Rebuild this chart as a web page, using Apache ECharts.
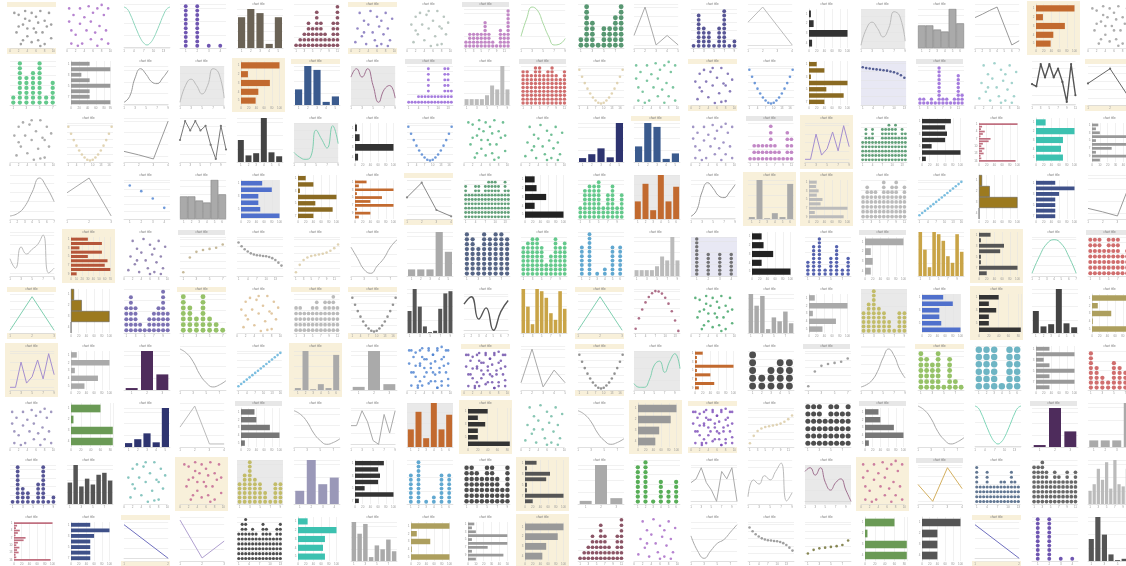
<!DOCTYPE html>
<html><head><meta charset="utf-8">
<script src="https://cdn.jsdelivr.net/npm/echarts@6/dist/echarts.min.js"></script>
<style>html,body{margin:0;padding:0;background:#fff;width:1126px;height:566px;overflow:hidden;position:relative}</style>
</head><body>
<script>
// ---------- scatter point sets (x,y in 0..10) ----------
const scatA = [[1,9],[1.5,4],[2,8.5],[2.5,1],[3,6],[3.5,9.5],[4,3],[4.5,7],[5,1.5],[5,9],[5.5,5],[6,8],[6.5,2],[6.5,6.5],[7,9.5],[7.5,4],[8,7],[8,1],[8.5,5.5],[9,9],[9.5,2.5],[9.5,6],[2,5.5],[3,2],[7,0.5],[4,5],[6,4],[3.5,7.5]];
const scatB = [[0.5,9],[0.5,6],[1,4],[1,1],[1.5,7.5],[2,3],[3,9],[3,5.5],[3.5,1],[4,7],[4.5,4],[5,9.5],[5.5,2],[5.5,6],[6,8],[6.5,3.5],[7,0.5],[7,9],[7.5,5],[8,2],[8.5,7.5],[9,4],[9.5,9],[9.5,1],[2.5,0.5],[8,9.8]];
const scatC = [[1,1.5],[1.5,5],[2,9],[2.5,3],[3,7],[3.5,1],[4,6],[4.5,9.5],[5,4],[5.5,2],[6,8],[6.5,5.5],[7,1],[7,7],[7.5,3.5],[8,9],[8.5,5],[9,2],[9.5,7.5],[3,4],[6,0.5],[8.5,0.5]];
const scatD = [[1,6],[1.5,1.5],[2,8],[2.5,3.5],[3,9],[3.5,6],[4,2],[4.5,8.5],[5,5],[5.5,0.5],[6,7],[6.5,3],[7,9.5],[7.5,5.5],[8,1],[8.5,8],[9,3.5],[9.5,6.5],[2,4.5],[5,9.5],[7,0.8],[8,5]];
const scatDense = scatA.concat(scatB);

// ---------- ordered dot curves ----------
const uShape = [9.5,7.6,5.9,4.4,3.1,2,1.2,0.6,0.4,0.6,1.2,2,3.1,4.4,5.9,7.6,9.5];
const archDots = [1,3.5,5.6,7.3,8.6,9.5,10,9.9,9.4,8.4,7,5.2,3,0.5];
const diagDots = [1,1.6,2.2,2.8,3.4,4,4.6,5.2,5.8,6.4,7,7.6,8.2,8.8,9.4,10];
const cubicDesc = [9,8,7.2,6.6,6.1,5.8,5.6,5.5,5.4,5.3,5.1,4.8,4.3,3.6,2.8];
const cubicAsc = [1,3,4.3,5,5.4,5.6,5.8,6,6.3,6.8,7.5,8.5];
const logAsc = [1,5,6.5,7,7.3,7.6,8.5];
const flatDesc = [9,8.8,8.7,8.6,8.5,8.4,8.3,8.2,8,7.8,7.5,7.1,6.5];
const descDots = [9,7.5,5.5,3];
const oliveRise = [2,3,3.4,3.6,3.8,4,4.3,5.5];

// ---------- line series ----------
const cosValley = [10,9.5,8,6,4,2.2,1,0.5,1,2.2,4,6,8,9.5,10];
const sineLine = [3,7,9.8,9,6,3,1,1.2,2.5];
const twoHumps = [1,5,6.5,5,3,5,9,8,2];
const polyZig = [6,9,5,6,5];
const trianglePeak = [6,10,5,0];
const peakDrop = [7.5,8.3,9.2,10,5.5,1,2];
const riseHump = [0.5,2,7,9.5,8,6,5.5,7,9];
const wavyMauve = [7,9,7,9,5,1,4,5,2];
const zigMarkers = [4.5,4,9,6,9,6,8,5,0.5,9,2];
const threePt = [5.5,9,1];
const flatRise = [2.8,2.2,1.5,8];
const zigSmall = [5,9,7,9,7,8,4,1,8,3];
const tealWave = [3,2,1.5,2,8,6,4,9,5];
const bellRise = [1,1.5,3,6,9,7,4];
const riseDrop = [6.5,10,1];
const fourPt = [6,9.5,3,1.5];
const lavZig = [2,2,8,3,4.5,8.5,4,10,5];
const grayWave = [5,3,7.5,6,7,8,10,2,3];
const dipRise = [8,5,2,1,3,5,8,10];
const tealTriangle = [1,9,1];
const darkWave = [7,9,3,6,0,5,8];
const tealArch = [2,6,9,10,9,6,2];
const sShapeDesc = [10,9,7,4,2,1,1.5,2.5];
const bellCurve = [1,1.5,2.5,4.5,7.5,9.5,8,5,3];
const polyLine = [6,10,5.5,7.5,6];
const triangleFlat = [5,10,1,1];
const sharpPoly = [5,5,9,6,1,0,8,3,9];
const tealLine2 = [2,1,1,3,7,8,5,8,10,6];
const vShape = [10,1,5];
const descStraight = [10,0];
const wavyGray = [5,6,9,5,3,0,8,6,9,0];
const wavySmooth = [2,6,5,7,6,8,10,1,3];
const goldLine = [6,2,10,5];
const mauveHumps = [8,9,7,9,5,3,5,6,3,0];
const dipRise2 = [7,3,1,3,5,6,8,10];

// ---------- vertical bars ----------
const brownBars = [75,95,85,10,75];
const grayBars9 = [1.5,1.5,1.5,1.5,2.5,5,4,10,4];
const navyBars = [40,100,90,8,22];
const darkBars6 = [50,15,20,100,22,13];
const navyBars5 = [10,20,35,12,100];
const grayCream6 = [5,100,2,15,5,90];
const orangeBars = [30,60,15,75,30,55];
const grayBars5 = [15,15,15,100,55];
const goldBars = [100,60,20,100,95,80,45,30,95,55];
const darkBars9 = [50,100,60,15,2,5,55,90,95];
const grayBars8 = [100,70,95,10,40,30,55,25];
const purpleBars3 = [5,100,40];
const grayBars3 = [8,100,15];
const grayBars4 = [15,15,15,100];
const darkBars8 = [55,100,45,65,50,75,80,60];
const lavBars = [30,100,45,60];
const grayHist = [55,55,45,40,95,60];
const grayBarsMany = [30,45,80,55,95,35,100,45,40,80,60];
const darkBars7 = [50,100,60,15,2,5,55];

// ---------- horizontal bars (top to bottom) ----------
const blackH4 = [5,12,100,8];
const orangeH5 = [100,18,75,45,38];
const grayH8 = [45,95,25,45,95,45,45,95];
const oliveH7 = [20,40,5,100,45,90,40];
const blackH7 = [75,60,65,60,25,100,10];
const roseH = [100,8,5,15,10,4,30,25,10,6,14,8,12,4,6,95];
const tealH5 = [25,100,70,65,70];
const grayHThin = [8,5,10,50,5,50,25,5,45,10];
const blueH6 = [55,80,45,45,50,100];
const orangeHThin = [30,10,100,5,70,40,100,5,40,10];
const blackH5 = [25,30,55,25,100];
const lightGrayH9 = [20,18,25,20,35,30,100,15,90];
const slateH7 = [50,100,60,50,50,50,50];
const brickH9 = [30,55,15,55,30,65,60,70,10];
const grayH4 = [100,15,20,15];
const darkH8 = [30,5,65,55,5,5,100,20];
const grayH5 = [15,100,10,70,35];
const blackH6 = [40,20,35,20,20,85];
const khakiH5 = [100,15,50,2,100];
const greenH4 = [60,5,85,85];
const grayH5b = [35,40,75,100,10];
const grayH4cream = [100,85,55,45];
const grayH8b = [35,100,20,35,100,35,100,35];
const orangeHThin2 = [20,5,5,100,5,40,5,50,10];
const darkH4 = [100,40,40,40];
const goldH = [8,28,100,0];

// ---------- dot stacks (dots per column) ----------
const indigo4 = [10,10,1,1];
const maroon11 = [1,2,3,5,4,7,5,3,2,5,8];
const orchid12 = [2,4,4,4,4,7,4,2,1,5,4,10];
const green8 = [2,8,5,1,4,4,6,8];
const navy9 = [1,8,5,4,1,5,9,1,2];
const green7 = [2,9,6,7,9,2,5];
const violet14 = [1,1,1,2,2,2,7,2,2,2,2,7,7,3];
const red11 = [9,9,8,10,10,8,9,10,8,7,9];
const violet12 = [2,2,1,2,1,10,2,2,1,2,8,3];
const orchid11 = [1,3,3,3,3,6,3,2,1,5,4];
const seaGreen14 = [5,8,6,8,5,5,8,8,9,8,9,6,8,7];
const seaGreen2 = [8,6,6,8,8,6,8,9,9,9,8,6,9,7];
const green10 = [3,7,8,8,9,3,6,8,3,6];
const grayDots = [5,7,6,6,5,8,6,7,8,5,7];
const navyDots = [9,8,6,9,8,9,9,8];
const greenDots = [7,8,9,9,7,3,5,9,7,8];
const steelDots6 = [7,10,1,2,7,7];
const grayLav4 = [10,6,6,6];
const blue8 = [4,8,10,2,5,8,2,5];
const redMany = [7,7,7,5,7,7,7,4,5,6];
const slate10 = [5,7,5,2,1,3,4,5,8,4];
const ygreen7 = [7,5,3,7,3,2,1];
const lightGrayMany = [5,5,4,4,5,6,4,6,6,7,5];
const olive9 = [5,7,10,6,5,3,1,5,5];
const black5 = [5,2,3,4,4];
const ygreen8 = [7,6,5,7,1,6,2,1];
const teal6 = [6,6,6,1,6,6];
const red8 = [8,5,3,2,6,5,4,5];
const black8 = [6,6,6,4,6,6,5,6];
const navy9b = [1,9,4,3,1,5,9,1,2];
const black9many = [7,7,6,5,7,7,5,3,7];
const green6 = [8,9,1,5,3,5];
const slateBlueMany = [8,4,4,7,4,4,4,5,5,4,7,5,4];
const darkMany = [8,8,9,7,5,7,6,5,7,5,7];
const blackDense = [6,8,9,6,7,6,5,8,7,6,5,7,8];

const TITLE = 'chart title';

// [type, data, colour, background, title, smooth]
const tiles = [
 [['sc',scatA,'#8a8a8a','cb',0],['sc',scatB,'#a464c4','w',0],['line',cosValley,'#8fd6bd','w',0,1],['dots',indigo4,'#4b2c9e','w',0],['bar',brownBars,'#6b6356','w',1],['dots',maroon11,'#6e2a40','w',0],['sc',scatC,'#7b6bb8','cb',1],['sc',scatD,'#a8b8b0','w',1],['dots',orchid12,'#b36ab8','gt',1],['line',sineLine,'#a8d8a0','w',0,1],['dots',green8,'#2e7d4f','w',0],['line',polyZig,'#aaaaaa','w',0],['dots',navy9,'#2d2a7a','w',1],['line',trianglePeak,'#bbbbbb','w',0],['hbar',blackH4,'#333333','w',1],['line',twoHumps,'#bbbbbb','g',1,1],['hist',grayHist,'#aaaaaa','w',1],['line',peakDrop,'#999999','w',0],['hbar',orangeH5,'#c26a2f','c',0],['sc',scatA,'#999999','w',0]],
 [['dots',green7,'#3dbb6f','w',0],['hbar',grayH8,'#999999','w',0],['line',riseHump,'#999999','w',1,1],['line',twoHumps,'#bbbbbb','g',1,1],['hbar',orangeH5,'#c26a2f','c',0],['bar',navyBars,'#3b5b8e','ct',1],['line',wavyMauve,'#a07090','g',1,1],['dots',violet14,'#8e5bd6','gt',1],['bar',grayBars9,'#bbbbbb','w',1],['dots',red11,'#c44a4a','gt',1],['csc',uShape,'#d9c9a0','w',1],['sc',scatB,'#5cb88a','w',0],['sc',scatD,'#6a5aa8','cb',1],['csc',uShape,'#4a7fd0','w',1],['hbar',oliveH7,'#8a6a22','w',0],['csc',flatDesc,'#2d3a7a','l',0],['dots',violet12,'#8e5bd6','gt',1],['sc',scatC,'#8cc8c0','w',0],['mline',zigMarkers,'#555555','w',0],['mline',threePt,'#666666','cb',0]],
 [['sc',scatD,'#999999','w',0],['csc',uShape,'#d9c9a0','w',1],['line',flatRise,'#999999','w',0],['mline',zigSmall,'#777777','w',0],['bar',darkBars6,'#444444','w',0],['line',tealWave,'#7fcfb0','g',1,1],['hbar',blackH4,'#333333','w',1],['csc',uShape,'#4a7fd0','w',1],['sc',scatA,'#4caf7a','w',0],['sc',scatC,'#4caf7a','w',1],['bar',navyBars5,'#2e3470','w',1],['bar',navyBars,'#3b5b8e','ct',1],['sc',scatB,'#8a7ab8','w',1],['dots',orchid11,'#b36ab8','gt',1],['line',lavZig,'#a58fd0','c',1],['dots',seaGreen14,'#3d8a5a','w',1],['hbar',blackH7,'#333333','w',0],['hbar',roseH,'#c07080','w',1],['hbar',tealH5,'#3cc1b0','w',0],['hbar',grayHThin,'#999999','w',1]],
 [['line',bellRise,'#aaaaaa','w',0,1],['line',riseDrop,'#aaaaaa','w',0],['csc',descDots,'#4a7fd0','w',1],['hist',grayHist,'#aaaaaa','w',1],['hbar',blueH6,'#5070cc','g',1],['hbar',oliveH7,'#8a6a22','w',0],['hbar',orangeHThin,'#c26a2f','w',1],['mline',fourPt,'#888888','cb',0],['dots',seaGreen2,'#3d8a5a','w',1],['hbar',blackH5,'#222222','w',0],['dots',green10,'#3dbb6f','w',1],['bar',orangeBars,'#c26a2f','g',0],['line',riseHump,'#999999','w',1,1],['bar',grayCream6,'#aaaaaa','c',1],['hbar',lightGrayH9,'#bbbbbb','c',1],['dots',grayDots,'#aaaaaa','w',1],['csc',diagDots,'#5aaed8','w',1],['hhist',goldH,'#9c7a1f','w',0],['hbar',slateH7,'#3f5189','w',1],['line',flatRise,'#999999','w',0]],
 [['line',grayWave,'#bbbbbb','w',0,1],['hbar',brickH9,'#b5563a','c',1],['sc',scatC,'#7a6aa0','w',1],['csc',logAsc,'#b8a880','gt',1],['csc',cubicDesc,'#888888','w',1],['csc',cubicAsc,'#d8c8a0','w',1],['line',dipRise,'#aaaaaa','w',1,1],['bar',grayBars5,'#aaaaaa','w',0],['dots',navyDots,'#2c3e66','w',0],['dots',greenDots,'#3dbb6f','w',1],['dots',steelDots6,'#3a92c4','w',0],['bar',grayBars9,'#bbbbbb','w',1],['dots',grayLav4,'#555555','l',1],['hbar',blackH5,'#222222','w',0],['dots',blue8,'#2a3b9a','w',1],['hbar',grayH4,'#aaaaaa','gt',1],['bar',goldBars,'#c9a447','w',0],['hbar',darkH8,'#555555','c',0],['line',tealArch,'#7fcfb0','w',1,1],['dots',redMany,'#c44a4a','gt',1]],
 [['line',tealTriangle,'#7fcfb0','cb',1],['hhist',goldH,'#9c7a1f','w',0],['dots',slate10,'#5b4fa0','w',0],['dots',ygreen7,'#7cb342','ct',1],['sc',scatD,'#d9b98a','w',1],['dots',lightGrayMany,'#aaaaaa','ct',1],['csc',uShape,'#777777','cb',1],['bar',darkBars9,'#555555','w',0],['line',darkWave,'#555555','w',1,1],['bar',goldBars,'#c9a447','w',0],['line',tealTriangle,'#7fcfb0','cb',1],['csc',archDots,'#9a4a6a','w',0],['sc',scatA,'#3aa060','w',1],['bar',grayBars8,'#aaaaaa','w',1],['hbar',grayH5,'#aaaaaa','w',1],['dots',olive9,'#b8b048','g',0],['hbar',blueH6,'#5070cc','g',1],['hbar',blackH6,'#333333','c',1],['bar',darkBars6,'#444444','w',0],['hbar',khakiH5,'#ad9f5e','w',1]],
 [['line',lavZig,'#a58fd0','c',1],['hbar',grayH5,'#aaaaaa','w',1],['bar',purpleBars3,'#4e2c5c','w',1],['line',sShapeDesc,'#aaaaaa','w',0,1],['csc',diagDots,'#5aaed8','w',1],['bar',grayCream6,'#aaaaaa','c',1],['bar',grayBars3,'#aaaaaa','w',1],['sc',scatDense,'#4a7fd0','w',0],['sc',scatDense,'#6a4aa8','cb',1],['line',polyLine,'#aaaaaa','w',0],['csc',uShape,'#777777','cb',1],['line',tealLine2,'#7fcfb0','g',1,1],['hbar',orangeHThin2,'#c26a2f','w',1],['dots',black5,'#222222','w',1],['csc',logAsc,'#888888','gt',1],['line',bellCurve,'#aaaaaa','w',0,1],['dots',ygreen8,'#7cb342','ct',1],['dots',teal6,'#4aa3b5','w',0],['hbar',grayH8b,'#999999','w',0],['dots',red8,'#c44a4a','w',1]],
 [['sc',scatB,'#8a80b0','w',1],['hbar',greenH4,'#6a9a55','w',0],['bar',navyBars5,'#2e3470','w',1],['line',triangleFlat,'#bbbbbb','w',0],['hbar',grayH5b,'#777777','gt',1],['line',sShapeDesc,'#aaaaaa','w',1,1],['line',sharpPoly,'#aaaaaa','w',1],['bar',orangeBars,'#c26a2f','g',0],['hbar',blackH6,'#333333','c',1],['sc',scatC,'#6ab8a0','w',0],['line',sShapeDesc,'#aaaaaa','w',1,1],['hbar',grayH4cream,'#999999','c',0],['sc',scatDense,'#7a4ab8','cb',1],['csc',cubicAsc,'#d8c8a0','w',1],['dots',black8,'#222222','w',0],['hbar',grayH5b,'#777777','gt',1],['line',sShapeDesc,'#aaaaaa','w',0,1],['line',cosValley,'#7fd6b9','w',0,1],['bar',purpleBars3,'#4e2c5c','gt',1],['bar',grayBars4,'#aaaaaa','w',0]],
 [['dots',navy9b,'#2c2a7a','w',1],['bar',darkBars8,'#555555','w',1],['sc',scatD,'#6ab8b0','w',0],['sc',scatA,'#c06090','c',0],['dots',olive9,'#b8b048','g',0],['bar',lavBars,'#9a98b8','w',0],['hbar',blackH7,'#333333','w',0],['dots',steelDots6,'#3a92c4','w',0],['dots',black9many,'#222222','w',1],['hbar',darkH8,'#555555','c',0],['bar',grayBars3,'#aaaaaa','w',1],['dots',green6,'#2e9a2e','w',0],['line',wavyGray,'#aaaaaa','w',1],['line',wavySmooth,'#bbbbbb','w',0,1],['line',mauveHumps,'#a07090','g',1,1],['sc',scatB,'#c06090','c',0],['line',goldLine,'#d4b060','gt',1],['dots',slateBlueMany,'#3b5577','w',1],['dots',darkMany,'#444444','w',0],['bar',grayBarsMany,'#bbbbbb','w',0]],
 [['hbar',roseH,'#c07080','w',1],['hbar',slateH7,'#3f5189','w',1],['line',descStraight,'#6f6fbf','cb',0],['line',vShape,'#b0a0d0','w',0],['dots',blackDense,'#222222','w',0],['hbar',tealH5,'#3cc1b0','w',0],['bar',grayBars8,'#aaaaaa','w',1],['hbar',khakiH5,'#ad9f5e','w',1],['hbar',grayHThin,'#999999','w',1],['hbar',grayH4cream,'#999999','c',1],['dots',maroon11,'#6e2a40','w',0],['sc',scatC,'#a464c4','w',0],['line',dipRise2,'#aaaaaa','w',1,1],['csc',cubicDesc,'#888888','w',1],['csc',oliveRise,'#6a6a2a','w',1],['hbar',greenH4,'#6a9a55','w',0],['hbar',darkH4,'#555555','w',0],['line',descStraight,'#6f6fbf','cb',1],['dots',indigo4,'#4b2c9e','w',0],['bar',darkBars7,'#555555','w',0]]
];

const W = 53, H = 54, PX = 56.75, PY = 57, OX = 5, OY = 1;
const CREAM = '#f8f0da', BAND = '#e7e7e7';
const lab = {show: true, fontSize: 3, color: '#999', margin: 1.5};
const noLab = {show: false};
const thinLine = {show: true, lineStyle: {color: '#cfcfcf', width: 0.5}};
const split = {show: true, lineStyle: {color: '#e3e3e3', width: 0.5}};
const noSplit = {show: false};

function cats(n) { const a = []; for (let i = 0; i < n; i++) a.push(String(i + 1)); return a; }

function build(spec) {
  const [type, data, color, bg, hasTitle, smooth] = spec;
  const titled = hasTitle || bg === 'gt' || bg === 'ct' || bg === 'cb';
  const isH = type === 'hbar' || type === 'hhist';
  const top = titled ? 8 : 3, bottom = 7, left = isH ? 9 : 5, right = 2;
  const grid = {left, right, top, bottom, show: bg === 'g' || bg === 'l',
    backgroundColor: bg === 'g' ? '#e9e9e9' : (bg === 'l' ? '#e8e8f4' : 'transparent'), borderWidth: 0};
  const elements = [];
  if (bg === 'gt') elements.push({type: 'rect', shape: {x: 3, y: 1, width: W - 6, height: 5}, style: {fill: BAND}});
  if (bg === 'ct' || bg === 'cb') elements.push({type: 'rect', shape: {x: 2, y: 1, width: W - 4, height: 5}, style: {fill: CREAM}});
  if (bg === 'cb') elements.push({type: 'rect', shape: {x: 2, y: H - 7, width: W - 4, height: 6}, style: {fill: CREAM}});
  const opt = {
    animation: false,
    backgroundColor: bg === 'c' ? CREAM : '#ffffff',
    grid,
    graphic: {elements: elements.map(e => Object.assign({z: -5, silent: true}, e))},
    title: titled && hasTitle ? {text: TITLE, left: 'center', top: 1.5, padding: 0,
      textStyle: {fontSize: 3, color: '#777', fontWeight: 'normal'}} : undefined
  };
  const plotW = W - left - right, plotH = H - top - bottom;
  if (type === 'sc') {
    opt.xAxis = {type: 'value', min: 0, max: 10, axisLabel: lab, axisLine: thinLine, axisTick: {show: false}, splitLine: noSplit};
    opt.yAxis = {type: 'value', min: 0, max: 10, axisLabel: noLab, axisLine: {show: false}, axisTick: {show: false}, splitLine: noSplit};
    opt.series = [{type: 'scatter', data, symbolSize: 2.6, itemStyle: {color}}];
  } else if (type === 'csc') {
    opt.xAxis = {type: 'category', data: cats(data.length), boundaryGap: true, axisLabel: lab, axisLine: thinLine, axisTick: {show: false}};
    opt.yAxis = {type: 'value', min: 0, max: 10.5, axisLabel: noLab, axisLine: {show: false}, axisTick: {show: false}, splitLine: split};
    opt.series = [{type: 'scatter', data, symbolSize: 2.6, itemStyle: {color}}];
  } else if (type === 'line' || type === 'mline') {
    const mn = Math.min(...data), mx = Math.max(...data), pad = (mx - mn) * 0.08 || 1;
    opt.xAxis = {type: 'category', data: cats(data.length), boundaryGap: false, axisLabel: lab, axisLine: thinLine, axisTick: {show: false}};
    opt.yAxis = {type: 'value', min: mn - pad, max: mx + pad, axisLabel: noLab, axisLine: {show: false}, axisTick: {show: false}, splitLine: split, splitNumber: 4};
    opt.series = [{type: 'line', data, smooth: !!smooth, symbol: type === 'mline' ? 'circle' : 'none', symbolSize: 2.2,
      lineStyle: {color, width: color === '#555555' ? 1.4 : 1}, itemStyle: {color}}];
  } else if (type === 'bar' || type === 'hist') {
    opt.xAxis = {type: 'category', data: cats(data.length), axisLabel: lab, axisLine: thinLine, axisTick: {show: false}};
    opt.yAxis = {type: 'value', min: 0, max: Math.max(...data), axisLabel: noLab, axisLine: {show: false}, axisTick: {show: false}, splitLine: split, splitNumber: 4};
    opt.series = [{type: 'bar', data, barCategoryGap: type === 'hist' ? '0%' : '22%',
      itemStyle: {color, borderColor: type === 'hist' ? '#777' : undefined, borderWidth: type === 'hist' ? 0.5 : 0}}];
  } else if (isH) {
    opt.yAxis = {type: 'category', data: cats(data.length), inverse: true, axisLabel: lab, axisLine: thinLine, axisTick: {show: false}};
    opt.xAxis = {type: 'value', min: 0, max: Math.max(...data), axisLabel: lab, axisLine: {show: false}, axisTick: {show: false}, splitLine: split, splitNumber: 5};
    opt.series = [{type: 'bar', data, barCategoryGap: type === 'hhist' ? '0%' : '30%',
      itemStyle: {color, borderColor: type === 'hhist' ? '#555' : undefined, borderWidth: type === 'hhist' ? 0.5 : 0}}];
  } else if (type === 'dots') {
    const maxC = Math.max(...data);
    const pts = [];
    data.forEach((cnt, i) => { for (let k = 0; k < cnt; k++) pts.push([i, k + 0.5]); });
    const size = Math.min(plotH / maxC, plotW / data.length) * 0.88;
    opt.xAxis = {type: 'category', data: cats(data.length), axisLabel: lab, axisLine: thinLine, axisTick: {show: false}};
    opt.yAxis = {type: 'value', min: 0, max: maxC, axisLabel: noLab, axisLine: {show: false}, axisTick: {show: false}, splitLine: split, splitNumber: 4};
    opt.series = [{type: 'scatter', data: pts, symbolSize: size, itemStyle: {color}}];
  }
  return opt;
}

tiles.forEach((row, r) => row.forEach((spec, c) => {
  const div = document.createElement('div');
  div.style.cssText = 'position:absolute;left:' + (OX + c * PX) + 'px;top:' + (OY + r * PY) + 'px;width:' + W + 'px;height:' + H + 'px;';
  document.body.appendChild(div);
  const chart = echarts.init(div, null, {renderer: 'canvas', width: W, height: H});
  chart.setOption(build(spec));
}));
</script>
</body></html>
